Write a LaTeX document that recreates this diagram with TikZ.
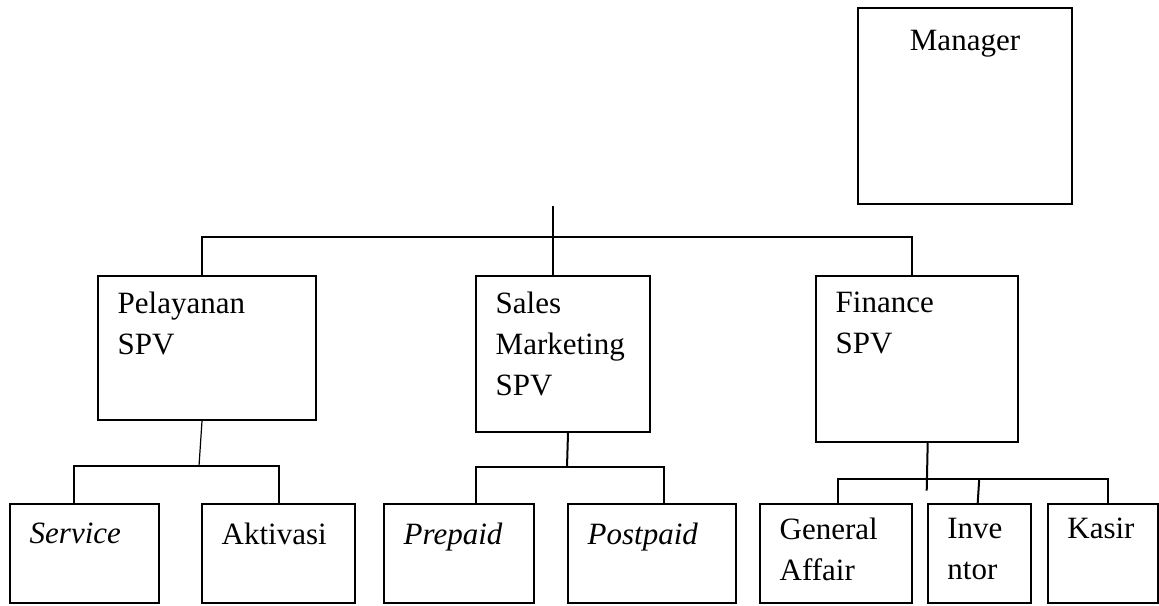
\documentclass[tikz,border=0pt]{standalone}
\usepackage{fontspec}
\setmainfont{Liberation Serif}

\tikzset{
    unit/.style={draw, line width=2pt, anchor=north west, inner sep=0pt},
    lbl/.style={anchor=north west, inner sep=0pt, align=left,
        xshift=20.5pt, yshift=-#1},
    lbl/.default=16.8pt,
    link/.style={line width=2pt},
    thinlink/.style={line width=1.2pt}
}

\begin{document}
\begin{tikzpicture}[x=1pt, y=-1pt, font=\fontsize{31}{41}\selectfont
        ]
        \useasboundingbox (0,0) rectangle (1159,605);
        % Manager
        \node[unit, minimum width=214pt, minimum height=196pt,
            label={[anchor=north, inner sep=0pt, yshift=-23.5pt]north:Manager}] (mgr) at (857,7) {};
        %% Supervisors
        \node[unit, minimum width=218pt, minimum height=144pt,
            label={[lbl]north west:{Pelayanan\\SPV}}] (pel) at (97,275) {};
        \node[unit, minimum width=174pt, minimum height=156pt,
            label={[lbl]north west:{Sales\\Marketing\\SPV}}] (sal) at (475,275) {};
        \node[unit, minimum width=202pt, minimum height=166pt,
            label={[lbl]north west:{Finance\\SPV}}] (fin) at (815,275) {};
        %% Staff
        \node[unit, minimum width=149pt, minimum height=99pt,
            label={[lbl=19.8pt]north west:\textit{Service}}] (svc) at (9,503) {};
        \node[unit, minimum width=153pt, minimum height=99pt,
            label={[lbl=19.8pt]north west:Aktivasi}] (akt) at (201,503) {};
        \node[unit, minimum width=150pt, minimum height=99pt,
            label={[lbl=19.8pt]north west:\textit{Prepaid}}] (pre) at (383,503) {};
        \node[unit, minimum width=168pt, minimum height=99pt,
            label={[lbl=19.8pt]north west:\textit{Postpaid}}] (post) at (567,503) {};
        \node[unit, minimum width=152pt, minimum height=99pt,
            label={[lbl=14.8pt]north west:{General\\Affair}}] (ga) at (759,503) {};
        \node[unit, minimum width=103pt, minimum height=99pt,
            label={[lbl=14.8pt]north west:{Inve\\ntor}}] (inv) at (926.7,503) {};
        \node[unit, minimum width=110pt, minimum height=99pt,
            label={[lbl=14.8pt]north west:Kasir}] (ksr) at (1046.7,503) {};

        % Connect the supervisors
        \coordinate (trunk) at (553,206);
        \coordinate (bus) at (553,237);
        \draw[link] (trunk) -- (trunk |- sal.north);
        \draw[link] ([xshift=-5pt]pel.north) |- (bus) -| ([xshift=-5pt]fin.north);
        % Connect Pelayanan
        \coordinate (pelbus) at (199,466);
        \draw[thinlink] ([xshift=-5pt]pel.south) -- (pelbus);
        \draw[link] ([xshift=-10.5pt]svc.north) |- (pelbus) -| (akt.north);
        % Connect Sales
        \coordinate (salbus) at (567,467);
        \draw[link] ([xshift=5pt]sal.south) -- (salbus);
        \draw[link] ([xshift=17pt]pre.north) |- (salbus) -| ([xshift=12pt]post.north);
        % Connect Finance
        \coordinate (finbus) at (926.7,479.3);
        \coordinate (finstub) at (926.7,490.7);
        \draw[link] ([xshift=10.7pt]fin.south) -- (finstub);
        \draw[link] ([xshift=2pt]ga.north) |- (finbus) -| ([xshift=5pt]ksr.north);
        \draw[link] ([xshift=-1.5pt]inv.north) -- (inv.north |- finbus);

    \end{tikzpicture}
\end{document}
